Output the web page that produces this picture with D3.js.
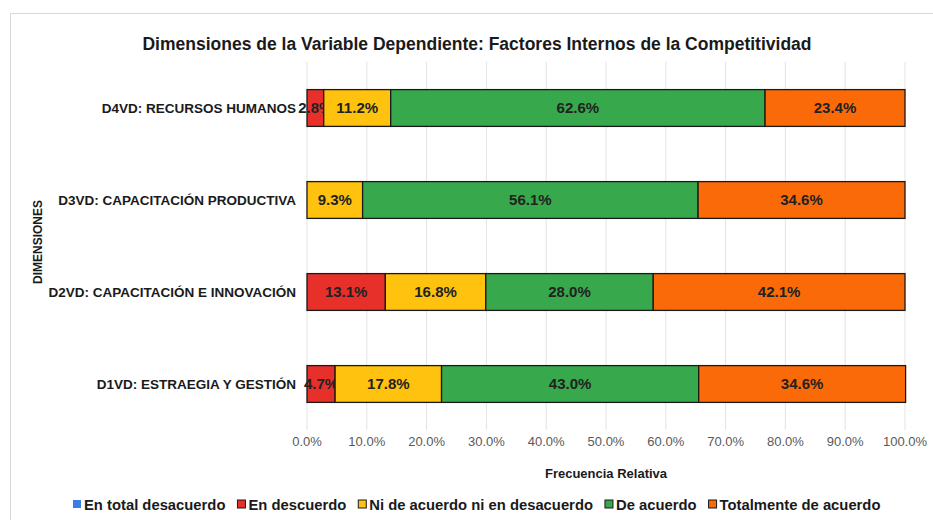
<!DOCTYPE html>
<html>
<head>
<meta charset="utf-8">
<script src="https://cdn.jsdelivr.net/npm/d3@7"></script>
<style>
  body { margin: 0; background: #fff; }
  svg { font-family: "Liberation Sans", Arial, sans-serif; }
</style>
</head>
<body>
<div id="chart"></div>
<script>
// categories top to bottom
var dimensiones = ["D4VD: RECURSOS HUMANOS", "D3VD: CAPACITACIÓN PRODUCTIVA",
    "D2VD: CAPACITACIÓN E INNOVACIÓN", "D1VD: ESTRAEGIA Y GESTIÓN"];
var series = ["En total desacuerdo", "En descuerdo", "Ni de acuerdo ni en desacuerdo",
    "De acuerdo", "Totalmente de acuerdo"];
var colores = ["#3b7de6", "#e8302b", "#ffc20e", "#37a84b", "#fb6a09"];

// valores en %, una lista por serie (mismo orden que dimensiones)
var enTotalDesacuerdo = [0, 0, 0, 0];
var enDescuerdo = [2.8, 0, 13.1, 4.7];
var niNi = [11.2, 9.3, 16.8, 17.8];
var deAcuerdo = [62.6, 56.1, 28.0, 43.0];
var totalmente = [23.4, 34.6, 42.1, 34.6];
var ticks = [0, 10, 20, 30, 40, 50, 60, 70, 80, 90, 100];

var width = 933, height = 520;
var valores = [enTotalDesacuerdo, enDescuerdo, niNi, deAcuerdo, totalmente];

var rows = dimensiones.map(function (d, i) {
    var r = { dim: d };
    series.forEach(function (s, j) { r[s] = valores[j][i]; });
    return r;
});

var svg = d3.select("#chart").append("svg")
    .attr("width", width)
    .attr("height", height);

// marco
svg.append("rect")
    .attr("x", 10.5).attr("y", 13.5)
    .attr("width", 940).attr("height", 540)
    .attr("fill", "#fff")
    .attr("stroke", "#d9d9d9");

var x = d3.scaleLinear().domain([0, 100]).range([307, 905]);
var y = d3.scaleBand().domain(dimensiones).range([62, 430]).paddingInner(0.6).paddingOuter(0.3);

// grid
svg.append("g").selectAll("line")
    .data(ticks)
    .enter().append("line")
    .attr("x1", function (d) { return x(d); })
    .attr("x2", function (d) { return x(d); })
    .attr("y1", 62).attr("y2", 430)
    .attr("stroke", "#e3e3e3");

var stack = d3.stack().keys(series)(rows);

var layers = svg.append("g").selectAll("g")
    .data(stack)
    .enter().append("g")
    .attr("fill", function (d, i) { return colores[i]; });

layers.selectAll("rect")
    .data(function (d) { return d.filter(function (p) { return p[1] - p[0] > 0; }); })
    .enter().append("rect")
    .attr("x", function (d) { return x(d[0]); })
    .attr("width", function (d) { return x(d[1]) - x(d[0]); })
    .attr("y", function (d) { return y(d.data.dim); })
    .attr("height", y.bandwidth())
    .attr("stroke", "#1a1a1a")
    .attr("stroke-width", 1.3);

layers.selectAll("text")
    .data(function (d) { return d.filter(function (p) { return p[1] - p[0] > 0; }); })
    .enter().append("text")
    .attr("x", function (d) { return x((d[0] + d[1]) / 2); })
    .attr("y", function (d) { return y(d.data.dim) + y.bandwidth() / 2; })
    .attr("dy", "0.36em")
    .attr("text-anchor", "middle")
    .attr("fill", "#222")
    .attr("font-size", 15)
    .attr("font-weight", "bold")
    .text(function (d) { return (d[1] - d[0]).toFixed(1) + "%"; });

// eje y
svg.append("g").selectAll("text")
    .data(dimensiones)
    .enter().append("text")
    .attr("x", 296)
    .attr("y", function (d) { return y(d) + y.bandwidth() / 2; })
    .attr("dy", "0.36em")
    .attr("text-anchor", "end")
    .attr("font-size", 13.5)
    .attr("font-weight", "bold")
    .attr("fill", "#1a1a1a")
    .text(function (d) { return d; });

// eje x
svg.append("g").selectAll("text")
    .data(ticks)
    .enter().append("text")
    .attr("x", function (d) { return x(d); })
    .attr("y", 446)
    .attr("text-anchor", "middle")
    .attr("font-size", 13)
    .attr("fill", "#595959")
    .text(function (d) { return d.toFixed(1) + "%"; });

svg.append("text")
    .attr("x", 477).attr("y", 50)
    .attr("text-anchor", "middle")
    .attr("font-size", 17.5)
    .attr("font-weight", "bold")
    .attr("fill", "#1a1a1a")
    .text("Dimensiones de la Variable Dependiente: Factores Internos de la Competitividad");

svg.append("text")
    .attr("x", 606).attr("y", 478)
    .attr("text-anchor", "middle")
    .attr("font-size", 13)
    .attr("font-weight", "bold")
    .attr("fill", "#1a1a1a")
    .text("Frecuencia Relativa");

svg.append("text")
    .attr("transform", "translate(42,242) rotate(-90)")
    .attr("text-anchor", "middle")
    .attr("font-size", 12)
    .attr("font-weight", "bold")
    .attr("fill", "#1a1a1a")
    .text("DIMENSIONES");

// leyenda
var legend = svg.append("g").attr("transform", "translate(73,510)");
var lx = 0;
series.forEach(function (s, i) {
    var g = legend.append("g").attr("transform", "translate(" + lx + ",0)");
    g.append("rect")
        .attr("x", 0).attr("y", -10)
        .attr("width", 8).attr("height", 8)
        .attr("fill", colores[i])
        .attr("stroke", i === 0 ? "none" : "#1a1a1a");
    var t = g.append("text")
        .attr("x", 11).attr("y", 0)
        .attr("font-size", 14.8)
        .attr("font-weight", "bold")
        .attr("fill", "#1a1a1a")
        .text(s);
    lx += 11 + t.node().getComputedTextLength() + 12;
});
</script>
</body>
</html>
